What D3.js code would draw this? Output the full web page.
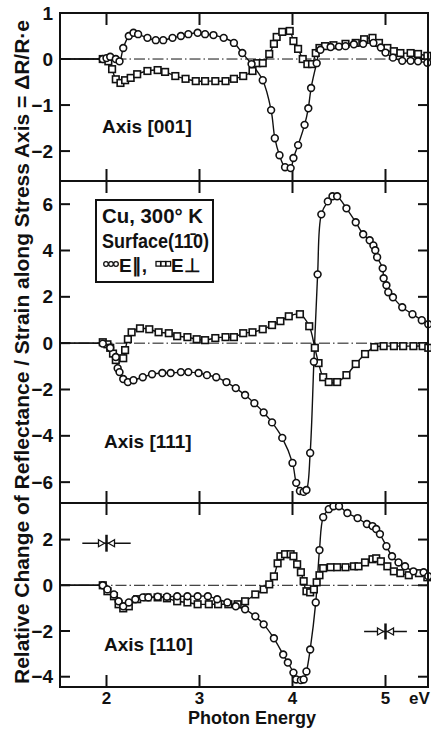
<!DOCTYPE html>
<html>
<head>
<meta charset="utf-8">
<script src="https://cdn.jsdelivr.net/npm/d3@7"></script>
<style>
  html, body { margin: 0; padding: 0; background: #fff; }
  svg { display: block; }
  text { font-family: "Liberation Sans", Arial, sans-serif; fill: #111; }
</style>
</head>
<body>
<svg id="chart" width="431" height="729"></svg>
<script>
// Piezoreflectance of Cu at 300 K, (1-10) surface, three stress axes.
// Each series: [photon energy (eV), ΔR/R per unit strain]

// unmarked baseline before the measured points
const leadIn = [[1.5, 0], [1.7, 0], [1.85, 0], [1.93, 0]];

// Axis [001]
const a001Par = [
  [1.96, 0], [2.0, 0.02], [2.04, 0.05], [2.1, 0.0], [2.14, -0.05], [2.18, 0.24], [2.24, 0.50],
  [2.29, 0.57], [2.34, 0.54], [2.44, 0.46], [2.53, 0.41], [2.61, 0.41], [2.71, 0.46],
  [2.80, 0.50], [2.88, 0.54], [2.98, 0.57], [3.06, 0.54], [3.15, 0.52], [3.26, 0.46],
  [3.37, 0.35], [3.46, 0.13], [3.56, -0.11], [3.68, -0.46], [3.77, -1.11], [3.81, -1.72],
  [3.86, -2.09], [3.92, -2.35], [3.98, -2.37], [4.01, -2.15], [4.06, -1.87], [4.13, -1.43],
  [4.17, -1.07], [4.20, -0.63], [4.26, -0.09], [4.30, 0.20], [4.41, 0.26], [4.50, 0.27],
  [4.57, 0.28], [4.66, 0.32], [4.76, 0.33], [4.87, 0.35], [4.95, 0.25], [5.00, 0.14],
  [5.08, 0.03], [5.18, -0.04], [5.27, -0.04], [5.35, -0.05], [5.45, -0.08]
];
const a001Perp = [
  [1.96, 0], [2.02, -0.05], [2.06, -0.22], [2.10, -0.44], [2.15, -0.52], [2.20, -0.46],
  [2.26, -0.41], [2.33, -0.33], [2.44, -0.26], [2.55, -0.24], [2.63, -0.28], [2.74, -0.37],
  [2.85, -0.43], [2.96, -0.48], [3.06, -0.48], [3.17, -0.48], [3.28, -0.48], [3.37, -0.43],
  [3.47, -0.37], [3.57, -0.26], [3.62, -0.09], [3.68, -0.09], [3.75, 0.11], [3.80, 0.33],
  [3.83, 0.48], [3.89, 0.59], [3.97, 0.61], [4.01, 0.39], [4.06, 0.22], [4.11, 0.0],
  [4.16, -0.11], [4.21, -0.11], [4.25, 0.13], [4.29, 0.24], [4.35, 0.28], [4.44, 0.30],
  [4.57, 0.33], [4.68, 0.35], [4.77, 0.43], [4.86, 0.46], [4.93, 0.35], [5.02, 0.24],
  [5.09, 0.17], [5.16, 0.13], [5.27, 0.13], [5.35, 0.11], [5.45, 0.07]
];

// Axis [111]
const a111Par = [
  [1.96, -0.02], [2.04, -0.2], [2.10, -0.6], [2.12, -1.08], [2.14, -1.25], [2.18, -1.55],
  [2.23, -1.68], [2.29, -1.6], [2.39, -1.47], [2.49, -1.34], [2.60, -1.29], [2.69, -1.29],
  [2.80, -1.25], [2.88, -1.25], [2.99, -1.29], [3.08, -1.38], [3.18, -1.47], [3.29, -1.68],
  [3.39, -1.94], [3.49, -2.24], [3.59, -2.59], [3.69, -2.99], [3.78, -3.42], [3.89, -4.09],
  [4.00, -5.17], [4.04, -6.03], [4.08, -6.38], [4.12, -6.42], [4.15, -6.34], [4.19, -4.74],
  [4.23, -0.8], [4.27, 2.97], [4.31, 5.56], [4.38, 6.12], [4.43, 6.34], [4.48, 6.34],
  [4.58, 5.82], [4.68, 5.22], [4.76, 4.70], [4.83, 4.44], [4.87, 4.22], [4.89, 4.01],
  [4.91, 3.71], [4.97, 3.23], [4.98, 2.80], [5.01, 2.50], [5.03, 2.20], [5.08, 1.98],
  [5.18, 1.55], [5.29, 1.25], [5.39, 0.99], [5.46, 0.82]
];
const a111Perp = [
  [1.96, 0.04], [2.01, -0.05], [2.04, -0.2], [2.07, -0.45], [2.10, -0.73], [2.18, -0.65],
  [2.20, -0.3], [2.23, 0.17], [2.27, 0.47], [2.36, 0.64], [2.46, 0.60], [2.56, 0.47],
  [2.67, 0.43], [2.76, 0.30], [2.87, 0.26], [2.97, 0.17], [3.06, 0.13], [3.17, 0.22],
  [3.28, 0.26], [3.37, 0.26], [3.47, 0.43], [3.57, 0.47], [3.68, 0.60], [3.78, 0.78],
  [3.87, 0.95], [3.96, 1.16], [4.08, 1.25], [4.18, 0.73], [4.24, -0.2], [4.28, -0.86],
  [4.33, -1.47], [4.39, -1.68], [4.48, -1.68], [4.58, -1.38], [4.68, -0.90], [4.78, -0.47],
  [4.88, -0.17], [4.98, -0.13], [5.09, -0.13], [5.19, -0.13], [5.30, -0.13], [5.40, -0.13],
  [5.46, -0.2]
];

// Axis [110]
const a110Par = [
  [1.96, 0], [2.01, -0.18], [2.08, -0.4], [2.13, -0.7], [2.18, -0.92], [2.24, -0.75],
  [2.31, -0.61], [2.39, -0.53], [2.45, -0.53], [2.55, -0.50], [2.65, -0.50], [2.76, -0.48],
  [2.87, -0.48], [2.98, -0.48], [3.09, -0.48], [3.19, -0.61], [3.30, -0.75], [3.39, -0.92],
  [3.49, -1.05], [3.60, -1.36], [3.69, -1.71], [3.80, -2.32], [3.90, -3.03], [3.95, -3.38],
  [4.01, -3.82], [4.04, -4.12], [4.09, -4.15], [4.12, -4.12], [4.15, -3.77], [4.19, -2.81],
  [4.25, -0.75], [4.29, 1.54], [4.33, 2.98], [4.39, 3.33], [4.44, 3.46], [4.50, 3.46],
  [4.59, 3.16], [4.70, 2.94], [4.80, 2.68], [4.86, 2.59], [4.90, 2.46], [4.94, 2.24],
  [5.01, 1.71], [5.07, 1.27], [5.14, 1.00], [5.21, 0.83], [5.30, 0.61], [5.41, 0.57],
  [5.46, 0.40]
];
const a110Perp = [
  [1.96, 0], [2.01, -0.26], [2.08, -0.48], [2.13, -0.83], [2.18, -1.01], [2.24, -0.92],
  [2.33, -0.61], [2.44, -0.53], [2.55, -0.53], [2.65, -0.57], [2.76, -0.70], [2.87, -0.75],
  [2.98, -0.83], [3.10, -0.83], [3.20, -0.83], [3.31, -0.83], [3.41, -0.83], [3.49, -0.70],
  [3.60, -0.40], [3.69, -0.18], [3.75, 0.04], [3.80, 0.39], [3.84, 0.96], [3.87, 1.27],
  [3.92, 1.36], [3.98, 1.36], [4.01, 1.27], [4.05, 0.92], [4.09, 0.57], [4.12, 0.18],
  [4.15, -0.26], [4.19, -0.31], [4.23, -0.18], [4.26, 0.13], [4.29, 0.44], [4.33, 0.75],
  [4.41, 0.79], [4.48, 0.79], [4.57, 0.79], [4.66, 0.83], [4.71, 0.83], [4.78, 1.00],
  [4.86, 1.14], [4.90, 1.18], [4.95, 1.05], [5.02, 0.83], [5.09, 0.61], [5.16, 0.53],
  [5.25, 0.44], [5.36, 0.53], [5.45, 0.35]
];

// experimental uncertainty markers in the [110] panel: [E, value, ±E, ±value]
const errorMarks = [[2.0, 1.84, 0.26, 0.37], [5.0, -2.02, 0.23, 0.35]];

const xTicks = [2, 3, 4, 5];
const xTickLabels = ["2", "3", "4", "5"];

const panels = [
  { name: "Axis [001]", domain: [-2.65, 1], ticks: [1, 0, -1, -2], par: a001Par, perp: a001Perp },
  { name: "Axis [111]", domain: [-6.9, 7], ticks: [6, 4, 2, 0, -2, -4, -6], par: a111Par, perp: a111Perp },
  { name: "Axis [110]", domain: [-4.45, 3.6], ticks: [2, 0, -2, -4], par: a110Par, perp: a110Perp }
];

// ---------- layout ----------
const L = 60, R = 428;
const bands = [[13, 181], [181, 503], [503, 687]];
const labelPos = [[102, 133], [104, 448], [104, 651]];

const svg = d3.select("#chart");
const x = d3.scaleLinear().domain([1.5, 5.457]).range([L, R]);
const ink = "#111";

panels.forEach((p, i) => {
  const [top, bot] = bands[i];
  const y = d3.scaleLinear().domain(p.domain).range([bot, top]);
  const g = svg.append("g");

  // zero reference line, dash-dot
  g.append("line")
    .attr("x1", L).attr("x2", R).attr("y1", y(0)).attr("y2", y(0))
    .attr("stroke", ink).attr("stroke-width", 1)
    .attr("stroke-dasharray", "11,3,1.5,3");

  // x ticks on top and bottom edges (inward)
  xTicks.forEach(t => {
    g.append("line").attr("x1", x(t)).attr("x2", x(t)).attr("y1", top).attr("y2", top + 12)
      .attr("stroke", ink).attr("stroke-width", 2);
    g.append("line").attr("x1", x(t)).attr("x2", x(t)).attr("y1", bot).attr("y2", bot - 12)
      .attr("stroke", ink).attr("stroke-width", 2);
  });

  // y ticks on both sides (inward) and labels on the left
  p.ticks.forEach(t => {
    g.append("line").attr("x1", L).attr("x2", L + 10).attr("y1", y(t)).attr("y2", y(t))
      .attr("stroke", ink).attr("stroke-width", 2);
    g.append("line").attr("x1", R).attr("x2", R - 10).attr("y1", y(t)).attr("y2", y(t))
      .attr("stroke", ink).attr("stroke-width", 2);
    g.append("text").attr("x", 53).attr("y", y(t) + 6.5)
      .attr("text-anchor", "end").attr("font-size", 19).attr("font-weight", "bold")
      .text(t < 0 ? "\u2212" + Math.abs(t) : String(t));
  });

  const line = d3.line().x(d => x(d[0])).y(d => y(d[1])).curve(d3.curveCatmullRom.alpha(0.5));

  // connecting curves
  [p.perp, p.par].forEach(s => {
    g.append("path").datum(leadIn.concat(s)).attr("d", line)
      .attr("fill", "none").attr("stroke", ink).attr("stroke-width", 1.4);
  });

  // E-perpendicular: squares
  g.selectAll("rect.sq").data(p.perp).enter().append("rect")
    .attr("x", d => x(d[0]) - 3.3).attr("y", d => y(d[1]) - 3.3)
    .attr("width", 6.6).attr("height", 6.6)
    .attr("fill", "#fff").attr("stroke", ink).attr("stroke-width", 1.6);

  // E-parallel: circles
  g.selectAll("circle.ci").data(p.par).enter().append("circle")
    .attr("cx", d => x(d[0])).attr("cy", d => y(d[1])).attr("r", 3.4)
    .attr("fill", "#fff").attr("stroke", ink).attr("stroke-width", 1.6);

  // panel label
  g.append("text").attr("x", labelPos[i][0]).attr("y", labelPos[i][1])
    .attr("font-size", 19).attr("font-weight", "bold").text(p.name);

  // frame
  g.append("rect").attr("x", L).attr("y", top).attr("width", R - L).attr("height", bot - top)
    .attr("fill", "none").attr("stroke", ink).attr("stroke-width", 2);

  if (i === 2) {
    errorMarks.forEach(([e, v, de, dv]) => {
      const cx = x(e), cy = y(v);
      g.append("line").attr("x1", x(e - de)).attr("x2", x(e + de)).attr("y1", cy).attr("y2", cy)
        .attr("stroke", ink).attr("stroke-width", 1.5);
      g.append("line").attr("x1", cx).attr("x2", cx).attr("y1", y(v + dv)).attr("y2", y(v - dv))
        .attr("stroke", ink).attr("stroke-width", 2.5);
      g.append("path").attr("d", `M${cx - 8},${cy - 3.5} L${cx - 2},${cy} L${cx - 8},${cy + 3.5} Z`)
        .attr("fill", "#fff").attr("stroke", ink).attr("stroke-width", 1.3);
      g.append("path").attr("d", `M${cx + 8},${cy - 3.5} L${cx + 2},${cy} L${cx + 8},${cy + 3.5} Z`)
        .attr("fill", "#fff").attr("stroke", ink).attr("stroke-width", 1.3);
    });
  }
});

// x tick labels
xTicks.forEach((t, k) => {
  svg.append("text").attr("x", x(t)).attr("y", 704).attr("text-anchor", "middle")
    .attr("font-size", 17).attr("font-weight", "bold").text(xTickLabels[k]);
});
svg.append("text").attr("x", 409).attr("y", 704).attr("font-size", 17).attr("font-weight", "bold").text("eV");
svg.append("text").attr("x", 252).attr("y", 724).attr("text-anchor", "middle")
  .attr("font-size", 18).attr("font-weight", "bold").text("Photon Energy");

// y title
svg.append("text")
  .attr("transform", "translate(29,352) rotate(-90)")
  .attr("text-anchor", "middle").attr("font-size", 20).attr("font-weight", "bold")
  .attr("textLength", 664).attr("lengthAdjust", "spacingAndGlyphs")
  .text("Relative Change of Reflectance / Strain along Stress Axis = \u0394R/R\u00b7e");

// legend box
const lg = svg.append("g");
lg.append("rect").attr("x", 96).attr("y", 200).attr("width", 117).attr("height", 82)
  .attr("fill", "#fff").attr("stroke", ink).attr("stroke-width", 2);
lg.append("text").attr("x", 102).attr("y", 223).attr("font-size", 20).attr("font-weight", "bold")
  .attr("textLength", 101).attr("lengthAdjust", "spacingAndGlyphs").text("Cu, 300\u00b0 K");
lg.append("text").attr("x", 102).attr("y", 248).attr("font-size", 20).attr("font-weight", "bold")
  .attr("textLength", 107).attr("lengthAdjust", "spacingAndGlyphs").text("Surface(1\u0031\u0304\u0030)");
[0, 1, 2].forEach(k => {
  lg.append("circle").attr("cx", 106 + k * 5).attr("cy", 264).attr("r", 2.3)
    .attr("fill", "#fff").attr("stroke", ink).attr("stroke-width", 1.3);
  lg.append("rect").attr("x", 156 + k * 5).attr("y", 261.5).attr("width", 4.6).attr("height", 4.6)
    .attr("fill", "#fff").attr("stroke", ink).attr("stroke-width", 1.3);
});
lg.append("text").attr("x", 119).attr("y", 272).attr("font-size", 19).attr("font-weight", "bold").text("E\u2225,");
lg.append("text").attr("x", 171).attr("y", 272).attr("font-size", 19).attr("font-weight", "bold").text("E\u22a5");
</script>
</body>
</html>
